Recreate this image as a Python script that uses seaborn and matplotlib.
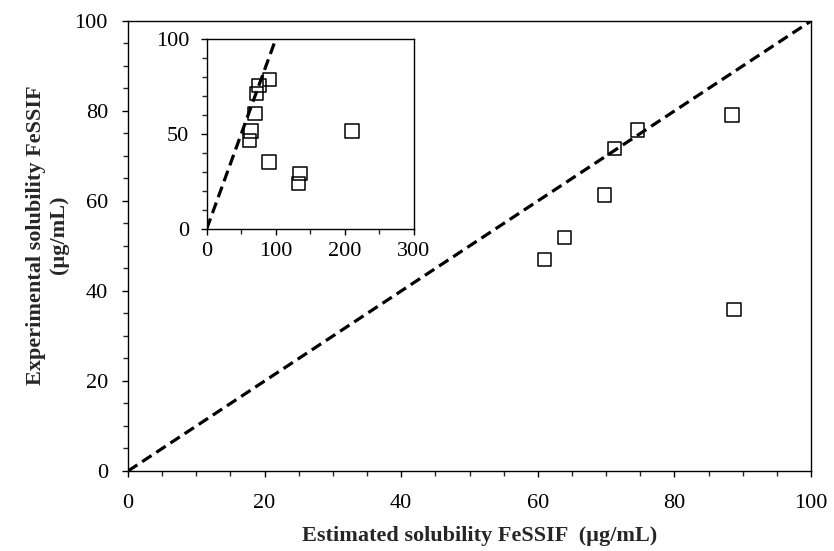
import matplotlib
matplotlib.use("Agg")
import matplotlib.pyplot as plt
import seaborn as sns
import pandas as pd
from matplotlib.ticker import MultipleLocator

# values
est_main = [61.0, 63.9, 69.8, 71.2, 74.6, 88.4, 88.7]
exp_main = [47.0, 51.9, 61.3, 71.7, 75.8, 79.1, 35.9]

# inset also shows the points beyond 100 µg/mL
est_all = [61.7, 64.5, 70.3, 72.3, 75.7, 90.6, 90.2, 135.0, 132.6, 210.0]
exp_all = [46.5, 51.7, 60.9, 71.4, 75.6, 78.8, 35.4, 29.3, 24.0, 51.7]

unity_x = [0, 100]
unity_y = [0, 100]

sns.set_theme(style="ticks")
plt.rcParams["font.family"] = ["Liberation Serif", "DejaVu Serif"]
plt.rcParams["axes.edgecolor"] = "black"
plt.rcParams["axes.linewidth"] = 1.0

df_main = pd.DataFrame({"est": est_main, "exp": exp_main})
df_all = pd.DataFrame({"est": est_all, "exp": exp_all})
df_line = pd.DataFrame({"x": unity_x, "y": unity_y})

FS = 16
DASH = (0, (3.5, 1.8))

fig = plt.figure(figsize=(8.34, 5.51), dpi=100)
ax = fig.add_axes([0.1535, 0.1452, 0.8189, 0.8167])

sns.lineplot(data=df_line, x="x", y="y", ax=ax, color="black", lw=2.3,
             linestyle=DASH)
sns.scatterplot(data=df_main, x="est", y="exp", ax=ax, marker="s", s=95,
                facecolor="none", edgecolor="black", linewidth=1.1, zorder=3)

ax.set_xlim(0, 100)
ax.set_ylim(0, 100)
ax.xaxis.set_major_locator(MultipleLocator(20))
ax.xaxis.set_minor_locator(MultipleLocator(5))
ax.yaxis.set_major_locator(MultipleLocator(20))
ax.yaxis.set_minor_locator(MultipleLocator(5))
ax.tick_params(which="major", direction="out", length=4.5, width=1.0,
               labelsize=FS, colors="black")
ax.tick_params(axis="x", which="major", pad=12)
ax.tick_params(axis="y", which="major", pad=10)
ax.tick_params(which="minor", direction="out", length=3.5, width=1.0)
ax.set_xlabel("Estimated solubility FeSSIF  (µg/mL)", fontsize=FS,
              fontweight="bold", va="top")
ax.set_ylabel("Experimental solubility FeSSIF\n(µg/mL)", fontsize=FS,
              fontweight="bold")
ax.xaxis.set_label_coords(0.515, -0.122)
ax.yaxis.set_label_coords(-0.087, 0.525)
for sp in ax.spines.values():
    sp.set_visible(True)
    sp.set_color("black")

# inset
axi = fig.add_axes([0.2478, 0.5844, 0.2486, 0.3448])
sns.lineplot(data=df_line, x="x", y="y", ax=axi, color="black", lw=2.3,
             linestyle=DASH)
sns.scatterplot(data=df_all, x="est", y="exp", ax=axi, marker="s", s=95,
                facecolor="none", edgecolor="black", linewidth=1.1, zorder=3)
axi.set_xlim(0, 300)
axi.set_ylim(0, 100)
axi.xaxis.set_major_locator(MultipleLocator(100))
axi.xaxis.set_minor_locator(MultipleLocator(50))
axi.yaxis.set_major_locator(MultipleLocator(50))
axi.yaxis.set_minor_locator(MultipleLocator(10))
axi.tick_params(which="major", direction="out", length=4.5, width=1.0,
                labelsize=FS, colors="black")
axi.tick_params(axis="x", which="major", pad=5)
axi.tick_params(axis="y", which="major", pad=8)
axi.tick_params(which="minor", direction="out", length=3.5, width=1.0)
axi.set_xlabel("")
axi.set_ylabel("")
for sp in axi.spines.values():
    sp.set_visible(True)
    sp.set_color("black")

fig.savefig("out.png", dpi=100)
